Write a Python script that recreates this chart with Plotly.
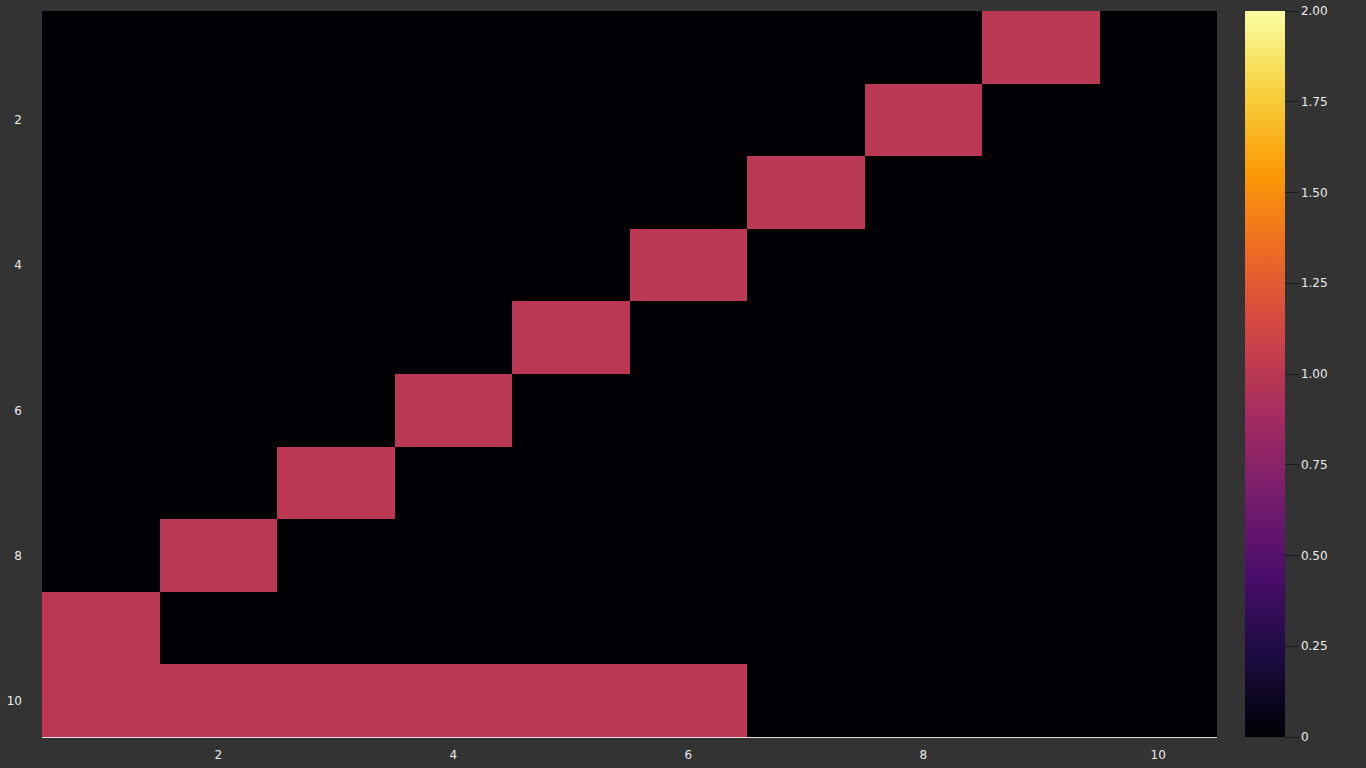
import plotly.graph_objects as go

x_labels = [1, 2, 3, 4, 5, 6, 7, 8, 9, 10]
y_labels = [1, 2, 3, 4, 5, 6, 7, 8, 9, 10]
z_values = [
    [0, 0, 0, 0, 0, 0, 0, 0, 1, 0],
    [0, 0, 0, 0, 0, 0, 0, 1, 0, 0],
    [0, 0, 0, 0, 0, 0, 1, 0, 0, 0],
    [0, 0, 0, 0, 0, 1, 0, 0, 0, 0],
    [0, 0, 0, 0, 1, 0, 0, 0, 0, 0],
    [0, 0, 0, 1, 0, 0, 0, 0, 0, 0],
    [0, 0, 1, 0, 0, 0, 0, 0, 0, 0],
    [0, 1, 0, 0, 0, 0, 0, 0, 0, 0],
    [1, 0, 0, 0, 0, 0, 0, 0, 0, 0],
    [1, 1, 1, 1, 1, 1, 0, 0, 0, 0],
]
cbar_ticks = [0, 0.25, 0.5, 0.75, 1.0, 1.25, 1.5, 1.75, 2.0]
cbar_labels = ["0", "0.25", "0.50", "0.75", "1.00", "1.25", "1.50", "1.75", "2.00"]

W, H = 1366, 768
L, R, T, B = 42, 149, 11, 31
plot_w = W - L - R

fig = go.Figure(go.Heatmap(
    x=x_labels, y=y_labels, z=z_values,
    colorscale="Inferno", zmin=0, zmax=2,
    colorbar=dict(
        thickness=40, thicknessmode="pixels",
        len=1, lenmode="fraction", y=0.5, yanchor="middle", ypad=0,
        x=(1245 - L) / plot_w, xanchor="left", xpad=0,
        outlinewidth=0,
        tickvals=cbar_ticks, ticktext=cbar_labels,
        ticks="outside", ticklen=14, tickcolor="#1a1a1a", tickwidth=1,
        tickfont=dict(family="DejaVu Sans", size=12, color="#ececec"),
    ),
))

fig.update_layout(
    width=W, height=H,
    margin=dict(l=L, r=R, t=T, b=B, autoexpand=False),
    paper_bgcolor="#333333", plot_bgcolor="#333333",
    font=dict(family="DejaVu Sans", size=12, color="#ececec"),
    xaxis=dict(tickvals=[2, 4, 6, 8, 10], showgrid=False, zeroline=False,
               range=[0.5, 10.5], showline=True, linecolor="#dddddd", linewidth=1,
               ticks="", ticklabelstandoff=7, automargin=False),
    yaxis=dict(tickvals=[2, 4, 6, 8, 10], showgrid=False, zeroline=False,
               range=[10.5, 0.5], showline=False, ticks="", ticklabelstandoff=19,
               automargin=False),
)

fig.write_html("out.html")
